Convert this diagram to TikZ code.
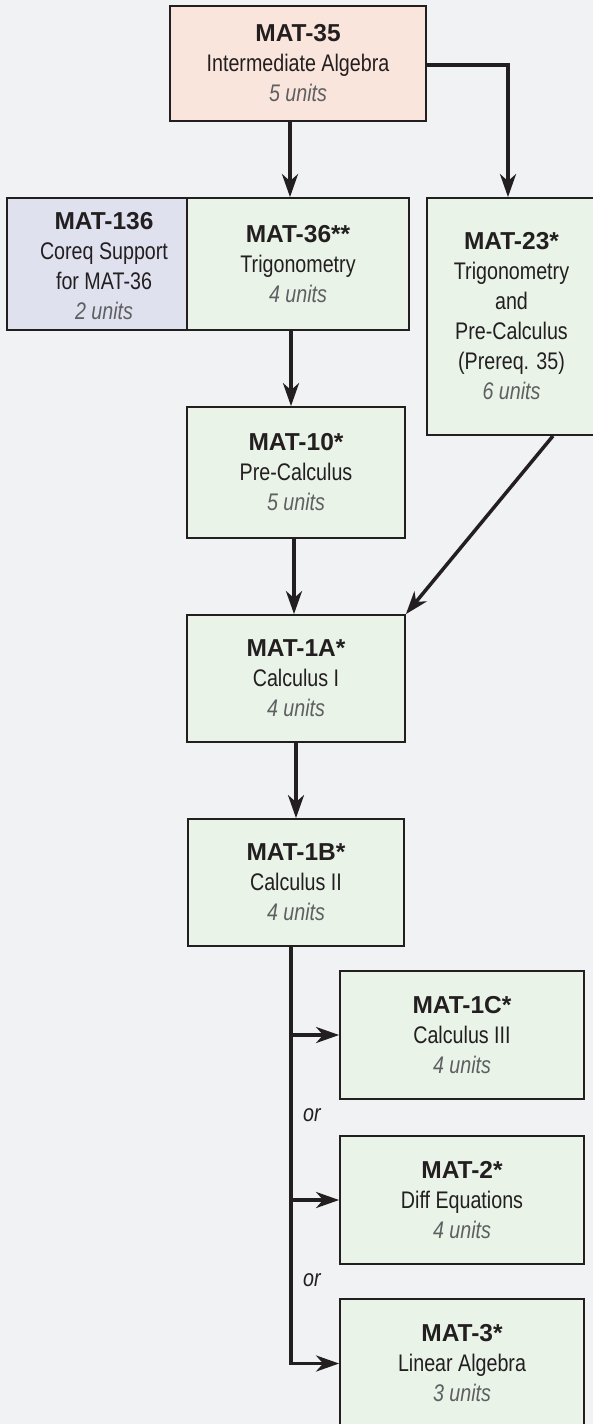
\documentclass[tikz,border=0pt]{standalone}
\usepackage{fontspec}
\setmainfont{Liberation Sans}[FakeStretch=0.82]
\newfontfamily\titlefam{Liberation Sans}
\usetikzlibrary{arrows.meta}
\definecolor{bgc}{HTML}{F1F2F4}
\definecolor{pinkc}{HTML}{FAE5DD}
\definecolor{lavc}{HTML}{E0E1EF}
\definecolor{greenc}{HTML}{E9F3E8}
\definecolor{linec}{HTML}{231F20}
\definecolor{unitc}{HTML}{5E5F61}
\newcommand\ctitle[1]{{\titlefam\bfseries\fontsize{24.5}{30}\selectfont #1}}
\newcommand\cunits[1]{{\itshape\color{unitc}#1}}
\tikzset{
  coursetext/.style={inner sep=0pt, align=center, text=linec, font=\fontsize{24}{30}\selectfont},
  course/.style={draw=linec, line width=1.8pt, rectangle, coursetext},
  arr/.style={draw=linec, line width=3.5pt, -{Stealth[length=23pt,width=16pt,inset=7pt]}},
  orlab/.style={anchor=west, text=linec, inner sep=0pt, font=\fontsize{24}{30}\selectfont\itshape}
}
\begin{document}
\begin{tikzpicture}[x=1pt,y=-1pt]
\fill[bgc] (0,0) rectangle (593,1424);
\useasboundingbox (0,0) rectangle (593,1424);

\node[course, fill=pinkc, minimum width=256pt, minimum height=115pt] (m35) at (298,63.5)
  {\ctitle{MAT-35}\\Intermediate Algebra\\\cunits{5 units}};
\node[course, fill=lavc, minimum width=180pt, minimum height=132pt,
  label={[coursetext, xshift=7pt, yshift=-2pt]center:{\ctitle{MAT-136}\\Coreq Support\\for MAT-36\\\cunits{2 units}}}] (m136) at (97,264) {};
\node[course, fill=greenc, minimum width=222pt, minimum height=132pt] (m36) at (298,264)
  {\ctitle{MAT-36**}\\Trigonometry\\\cunits{4 units}};
\node[course, fill=greenc, minimum width=169pt, minimum height=237pt] (m23) at (511.5,316.5)
  {\ctitle{MAT-23*}\\Trigonometry\\and\\Pre-Calculus\\(Prereq. 35)\\\cunits{6 units}};
\node[course, fill=greenc, minimum width=218pt, minimum height=131pt] (m10) at (296,472.5)
  {\ctitle{MAT-10*}\\Pre-Calculus\\\cunits{5 units}};
\node[course, fill=greenc, minimum width=218pt, minimum height=127pt] (m1a) at (296,678.5)
  {\ctitle{MAT-1A*}\\Calculus I\\\cunits{4 units}};
\node[course, fill=greenc, minimum width=216pt, minimum height=127pt] (m1b) at (296,882.5)
  {\ctitle{MAT-1B*}\\Calculus II\\\cunits{4 units}};
\node[course, fill=greenc, minimum width=244pt, minimum height=128pt] (m1c) at (462,1035)
  {\ctitle{MAT-1C*}\\Calculus III\\\cunits{4 units}};
\node[course, fill=greenc, minimum width=244pt, minimum height=128pt] (m2) at (462,1200)
  {\ctitle{MAT-2*}\\Diff Equations\\\cunits{4 units}};
\node[course, fill=greenc, minimum width=244pt, minimum height=129pt] (m3) at (462,1363.5)
  {\ctitle{MAT-3*}\\Linear Algebra\\\cunits{3 units}};

\node[orlab] (or1) at (303,1115) {or};
\node[orlab] (or2) at (303,1280) {or};

\coordinate (a1) at (290,0);
\coordinate (a2) at (508,65);
\coordinate (a3) at (291,0);
\coordinate (a4) at (294,0);
\coordinate (a5) at (553,0);
\coordinate (a6) at (296,0);
\coordinate (b) at (291,0);

\draw[arr] (m35.south -| a1) -- (m36.north -| a1);
\draw[arr] (m35.east |- a2) -| (m23.north -| a2);
\draw[arr] (m36.south -| a3) -- (m10.north -| a3);
\draw[arr] (m10.south -| a4) -- (m1a.north -| a4);
\draw[arr] (m23.south -| a5) -- (m1a.north east);
\draw[arr] (m1a.south -| a6) -- (m1b.north -| a6);
\draw[arr] (m1b.south -| b) |- (m3.west);
\draw[arr] (m1c.west -| b) -- (m1c.west);
\draw[arr] (m2.west -| b) -- (m2.west);
\end{tikzpicture}
\end{document}
